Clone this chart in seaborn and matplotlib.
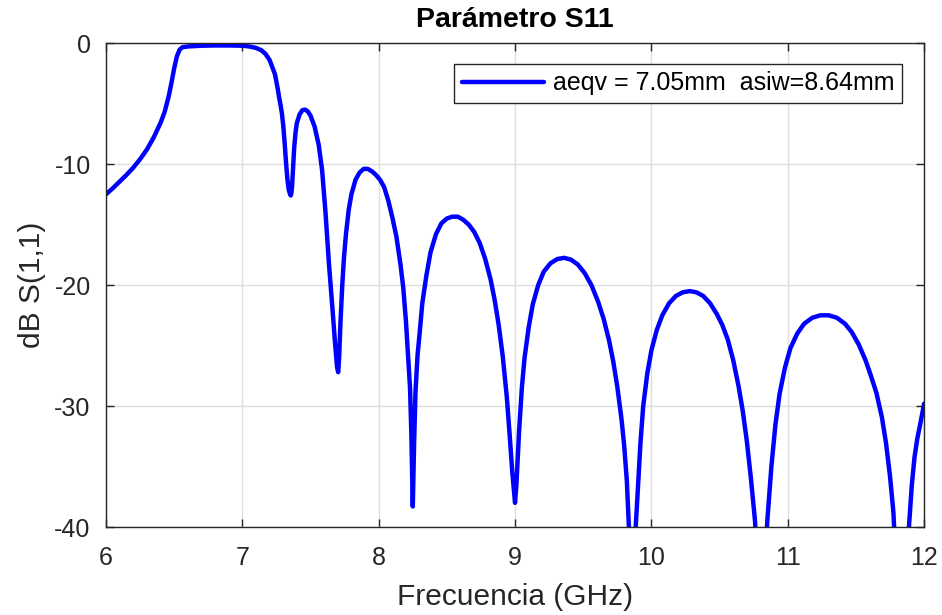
import numpy as np
import pandas as pd
import matplotlib
matplotlib.use("Agg")
import matplotlib.pyplot as plt
import seaborn as sns

freq_ghz = [6.00, 6.05, 6.10, 6.15, 6.20, 6.25, 6.30, 6.35, 6.40, 6.43, 6.46, 6.48, 6.50, 6.52,
            6.54, 6.56, 6.60, 6.70, 6.80, 6.90, 7.00, 7.05, 7.10, 7.14, 7.17, 7.20, 7.22, 7.24,
            7.25, 7.26, 7.27, 7.28, 7.29, 7.30, 7.31, 7.32, 7.33, 7.34, 7.35, 7.355, 7.36, 7.365,
            7.37, 7.375, 7.38, 7.39, 7.40, 7.42, 7.44, 7.46, 7.48, 7.50, 7.53, 7.56, 7.585, 7.61,
            7.635, 7.66, 7.68, 7.695, 7.703, 7.71, 7.72, 7.733, 7.745, 7.76, 7.78, 7.80, 7.83, 7.86,
            7.89, 7.92, 7.95, 7.98, 8.01, 8.04, 8.07, 8.10, 8.13, 8.16, 8.18, 8.20, 8.215, 8.23,
            8.24, 8.25, 8.26, 8.27, 8.285, 8.30, 8.32, 8.35, 8.38, 8.42, 8.46, 8.50, 8.54, 8.58,
            8.62, 8.66, 8.70, 8.74, 8.78, 8.82, 8.85, 8.88, 8.91, 8.94, 8.96, 8.98, 9.00, 9.01,
            9.03, 9.05, 9.07, 9.10, 9.13, 9.17, 9.21, 9.26, 9.31, 9.36, 9.41, 9.46, 9.51, 9.56,
            9.61, 9.65, 9.69, 9.72, 9.75, 9.78, 9.80, 9.82, 9.835, 9.86, 9.885, 9.90, 9.92, 9.94,
            9.97, 10.00, 10.04, 10.08, 10.13, 10.18, 10.23, 10.28, 10.33, 10.38, 10.43, 10.48,
            10.52, 10.56, 10.60, 10.64, 10.67, 10.70, 10.73, 10.76, 10.80, 10.85, 10.88, 10.91,
            10.94, 10.98, 11.02, 11.07, 11.12, 11.18, 11.24, 11.30, 11.36, 11.42, 11.47, 11.52,
            11.57, 11.61, 11.65, 11.69, 11.72, 11.75, 11.775, 11.83, 11.89, 11.91, 11.93, 11.95,
            11.975, 12.00]
s11_db = [-12.5, -12.0, -11.45, -10.9, -10.3, -9.6, -8.8, -7.8, -6.6, -5.7, -4.4, -3.3, -2.1, -1.1,
          -0.55, -0.35, -0.28, -0.22, -0.2, -0.2, -0.22, -0.28, -0.4, -0.6, -0.9, -1.4, -2.0, -2.6,
          -3.2, -3.8, -4.5, -5.1, -5.8, -6.8, -8.2, -9.8, -11.2, -12.1, -12.5, -12.6, -12.4, -11.8,
          -10.8, -9.7, -8.7, -7.4, -6.6, -5.9, -5.55, -5.5, -5.65, -6.0, -6.9, -8.4, -10.5, -14.0,
          -18.2, -21.8, -24.8, -26.8, -27.2, -26.0, -23.0, -20.0, -17.8, -15.8, -13.8, -12.5, -11.3, -10.7,
          -10.4, -10.4, -10.6, -10.9, -11.3, -11.9, -13.0, -14.4, -16.0, -18.3, -20.2, -23.0, -25.8, -28.5,
          -32.5, -38.3, -33.0, -28.8, -25.8, -24.0, -21.5, -19.2, -17.3, -15.8, -14.9, -14.5, -14.35, -14.35,
          -14.6, -15.0, -15.6, -16.5, -17.8, -19.5, -21.2, -23.3, -25.9, -29.3, -32.3, -35.5, -38.0, -36.5,
          -32.0, -28.5, -26.0, -23.5, -21.6, -20.0, -18.9, -18.2, -17.85, -17.75, -17.9, -18.3, -19.0, -20.0,
          -21.4, -22.8, -24.6, -26.3, -28.4, -31.0, -33.2, -36.2, -40.0, -48.0, -40.0, -37.0, -33.0, -30.0,
          -27.3, -25.4, -23.7, -22.5, -21.5, -20.9, -20.6, -20.5, -20.6, -20.9, -21.5, -22.4,
          -23.3, -24.5, -26.2, -28.4, -30.4, -32.9, -36.0, -39.5, -50.0, -39.5, -35.0, -31.5,
          -29.0, -26.8, -25.2, -24.0, -23.2, -22.7, -22.5, -22.5, -22.7, -23.2, -23.9, -24.9,
          -26.2, -27.5, -28.9, -30.9, -33.0, -35.8, -38.8, -52.0, -39.8, -36.5, -34.2, -32.7,
          -31.3, -29.8]

series_label = "aeqv = 7.05mm  asiw=8.64mm"
x_ticks = [6, 7, 8, 9, 10, 11, 12]
y_ticks = [0, -10, -20, -30, -40]
title = "Parámetro S11"
x_label = "Frecuencia (GHz)"
y_label = "dB S(1,1)"

df = pd.DataFrame({"f": freq_ghz, "s11": s11_db, "serie": series_label})

sns.set_theme(style="whitegrid")
plt.rcParams["font.family"] = ["Liberation Sans", "DejaVu Sans"]

fig = plt.figure(figsize=(9.42, 6.15), dpi=100)
ax = fig.add_axes([0.1125, 0.143, 0.8685, 0.787])

sns.lineplot(data=df, x="f", y="s11", hue="serie", palette=["#0000ff"],
             linewidth=3.2, ax=ax, sort=False, estimator=None,
             solid_joinstyle="round", solid_capstyle="round")

ax.set_xlim(6, 12)
ax.set_ylim(-40, 0)
ax.set_xticks(x_ticks)
ax.set_yticks(y_ticks)
ax.set_xticklabels([str(t) for t in x_ticks])
ax.set_yticklabels([str(t) for t in y_ticks])

ax.grid(True, color="#dedede", linewidth=1.0)
for s in ax.spines.values():
    s.set_visible(True)
    s.set_color("#262626")
    s.set_linewidth(1.0)
ax.tick_params(axis="both", which="both", direction="in", length=6, width=1.0,
               color="#262626", labelsize=18, labelcolor="#262626",
               top=True, right=True, bottom=True, left=True)
ax.tick_params(axis="x", pad=14)
ax.tick_params(axis="y", pad=11)

ax.set_xlabel(x_label, fontsize=21.5, color="#262626", labelpad=9)
ax.set_ylabel(y_label, fontsize=21.5, color="#262626", labelpad=6)
ax.set_title(title, fontsize=20.5, fontweight="bold", color="black", pad=11.5)

leg = ax.legend(loc="upper right", bbox_to_anchor=(0.973, 0.957), borderaxespad=0,
                fontsize=18, frameon=True, fancybox=False, handlelength=3.3,
                edgecolor="#262626", framealpha=1, borderpad=0.3, handletextpad=0.35)
leg.get_frame().set_linewidth(1.0)
for t in leg.get_texts():
    t.set_color("black")

fig.savefig("out.png", dpi=100)
